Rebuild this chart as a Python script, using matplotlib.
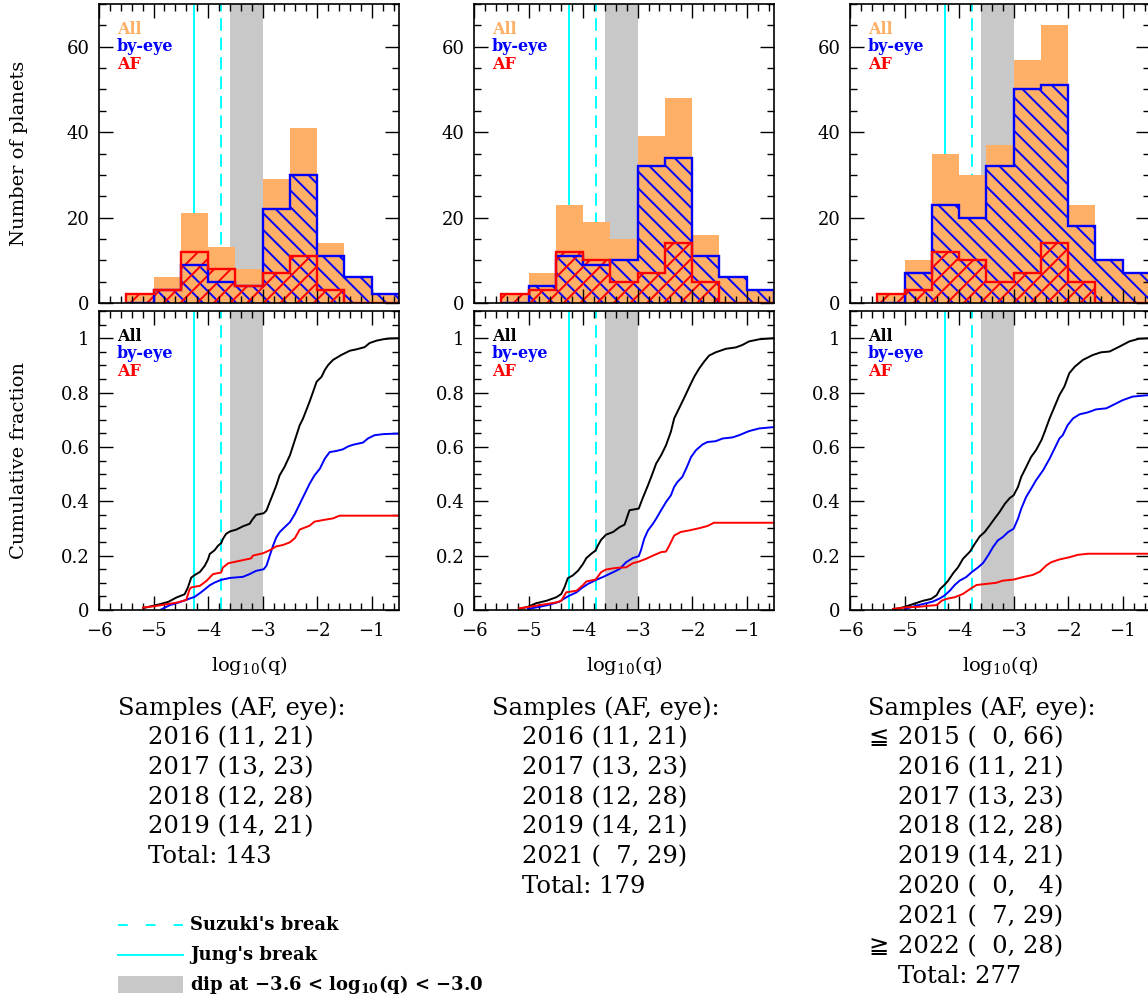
import matplotlib.pyplot as plt
from matplotlib.lines import Line2D
from matplotlib.patches import Rectangle
from matplotlib.ticker import MultipleLocator, FuncFormatter, NullFormatter

plt.rcParams['font.family'] = ['DejaVu Serif', 'DejaVu Sans']
plt.rcParams['mathtext.fontset'] = 'dejavuserif'
plt.rcParams['hatch.linewidth'] = 1.4

# histogram bins in log10(q)
edges = [-5.5, -5.0, -4.5, -4.0, -3.5, -3.0, -2.5, -2.0, -1.5, -1.0, -0.5]

# breaks and dip
jung_break = -4.26
suzuki_break = -3.77
dip_lo, dip_hi = -3.6, -3.0

# panel A: 2016-2019
all_a = [2, 6, 21, 13, 8, 29, 41, 14, 6, 2]
eye_a = [0, 3, 9, 5, 4, 22, 30, 11, 6, 2]
af_a = [2, 3, 12, 8, 4, 7, 11, 3, 0, 0]
# panel B: 2016-2021
all_b = [2, 7, 23, 19, 15, 39, 48, 16, 6, 3]
eye_b = [0, 4, 11, 9, 10, 32, 34, 11, 6, 3]
af_b = [2, 3, 12, 10, 5, 7, 14, 5, 0, 0]
# panel C: all seasons
all_c = [2, 10, 35, 30, 37, 57, 65, 23, 10, 7]
eye_c = [0, 7, 23, 20, 32, 50, 51, 18, 10, 7]
af_c = [2, 3, 12, 10, 5, 7, 14, 5, 0, 0]

# cumulative fractions
cum_all_a_x = [-5.19, -4.89, -4.73, -4.58, -4.43, -4.37, -4.31, -4.25, -4.15, -4.06, -4.00, -3.97, -3.88,
               -3.82, -3.76, -3.73, -3.67, -3.60, -3.48, -3.36, -3.24, -3.18, -3.12, -2.98, -2.93, -2.87,
               -2.81, -2.75, -2.69, -2.60, -2.50, -2.44, -2.38, -2.32, -2.26, -2.20, -2.14, -2.08, -2.01,
               -1.92, -1.86, -1.80, -1.71, -1.56, -1.40, -1.28, -1.13, -1.04, -0.91, -0.79, -0.67, -0.50]
cum_all_a_y = [0.007, 0.021, 0.030, 0.046, 0.058, 0.083, 0.119, 0.128, 0.140, 0.163, 0.187, 0.206, 0.220,
               0.236, 0.246, 0.261, 0.280, 0.289, 0.296, 0.308, 0.317, 0.335, 0.350, 0.356, 0.366, 0.397,
               0.427, 0.458, 0.495, 0.526, 0.569, 0.606, 0.643, 0.680, 0.704, 0.735, 0.766, 0.800, 0.840,
               0.858, 0.883, 0.901, 0.920, 0.938, 0.954, 0.959, 0.967, 0.982, 0.991, 0.996, 0.999, 1.000]
cum_eye_a_x = [-4.86, -4.70, -4.55, -4.40, -4.34, -4.25, -4.15, -4.06, -3.97, -3.88, -3.76, -3.60, -3.36,
               -3.24, -3.12, -2.98, -2.93, -2.87, -2.81, -2.75, -2.69, -2.63, -2.50, -2.41, -2.32, -2.23,
               -2.14, -2.05, -1.95, -1.86, -1.77, -1.65, -1.53, -1.43, -1.34, -1.16, -1.07, -0.95, -0.79,
               -0.67, -0.50]
cum_eye_a_y = [0.002, 0.018, 0.027, 0.037, 0.042, 0.048, 0.062, 0.076, 0.091, 0.101, 0.111, 0.118, 0.122,
               0.132, 0.144, 0.150, 0.163, 0.200, 0.236, 0.267, 0.286, 0.298, 0.323, 0.353, 0.390, 0.427,
               0.464, 0.495, 0.520, 0.557, 0.581, 0.585, 0.591, 0.602, 0.608, 0.616, 0.631, 0.643, 0.647,
               0.648, 0.649]
cum_af_a_x = [-5.19, -4.95, -4.77, -4.58, -4.40, -4.34, -4.31, -4.15, -4.03, -3.91, -3.76, -3.73, -3.63,
              -3.42, -3.21, -3.18, -2.99, -2.87, -2.75, -2.63, -2.50, -2.41, -2.32, -2.14, -2.05, -1.89,
              -1.71, -1.59, -0.50]
cum_af_a_y = [0.009, 0.015, 0.021, 0.027, 0.037, 0.076, 0.083, 0.089, 0.107, 0.132, 0.138, 0.156, 0.172,
              0.181, 0.190, 0.200, 0.209, 0.220, 0.234, 0.239, 0.249, 0.264, 0.296, 0.310, 0.325, 0.331,
              0.337, 0.347, 0.347]

cum_all_b_x = [-5.17, -5.01, -4.86, -4.67, -4.49, -4.40, -4.34, -4.28, -4.19, -4.09, -4.00, -3.94, -3.85,
               -3.77, -3.73, -3.67, -3.58, -3.45, -3.33, -3.24, -3.15, -2.98, -2.91, -2.81, -2.75, -2.66,
               -2.57, -2.48, -2.39, -2.33, -2.24, -2.15, -2.05, -1.96, -1.87, -1.78, -1.69, -1.57, -1.38,
               -1.20, -1.08, -0.96, -0.77, -0.50]
cum_all_b_y = [0.004, 0.012, 0.025, 0.034, 0.047, 0.059, 0.084, 0.117, 0.127, 0.145, 0.170, 0.191, 0.207,
               0.219, 0.237, 0.258, 0.277, 0.287, 0.305, 0.314, 0.367, 0.373, 0.410, 0.459, 0.490, 0.539,
               0.569, 0.606, 0.656, 0.705, 0.742, 0.779, 0.822, 0.859, 0.889, 0.914, 0.936, 0.948, 0.961,
               0.966, 0.975, 0.988, 0.996, 1.000]
cum_eye_b_x = [-5.01, -4.79, -4.61, -4.43, -4.34, -4.25, -4.12, -4.03, -3.91, -3.76, -3.64, -3.45, -3.33,
               -3.21, -3.09, -2.98, -2.94, -2.88, -2.81, -2.72, -2.66, -2.57, -2.48, -2.39, -2.33, -2.27,
               -2.18, -2.11, -2.02, -1.93, -1.81, -1.72, -1.57, -1.44, -1.26, -1.14, -0.96, -0.77, -0.50]
cum_eye_b_y = [0.004, 0.012, 0.020, 0.031, 0.043, 0.053, 0.065, 0.080, 0.096, 0.111, 0.121, 0.139, 0.151,
               0.176, 0.191, 0.198, 0.219, 0.262, 0.293, 0.317, 0.336, 0.367, 0.397, 0.422, 0.453, 0.471,
               0.490, 0.520, 0.563, 0.588, 0.609, 0.618, 0.621, 0.631, 0.635, 0.643, 0.658, 0.668, 0.673]
cum_af_b_x = [-5.17, -4.98, -4.73, -4.49, -4.40, -4.31, -4.12, -4.01, -3.94, -3.77, -3.67, -3.58, -3.39,
              -3.21, -3.09, -2.98, -2.85, -2.72, -2.57, -2.48, -2.42, -2.33, -2.21, -2.05, -1.87, -1.72,
              -1.60, -0.50]
cum_af_b_y = [0.006, 0.012, 0.020, 0.028, 0.034, 0.065, 0.071, 0.090, 0.105, 0.112, 0.139, 0.149, 0.155,
              0.157, 0.172, 0.178, 0.188, 0.200, 0.213, 0.215, 0.237, 0.274, 0.287, 0.293, 0.301, 0.309,
              0.321, 0.321]

cum_all_c_x = [-5.21, -5.02, -4.84, -4.66, -4.51, -4.41, -4.35, -4.27, -4.20, -4.11, -4.02, -3.93, -3.80,
               -3.71, -3.62, -3.53, -3.44, -3.35, -3.26, -3.16, -3.07, -3.00, -2.92, -2.86, -2.77, -2.68,
               -2.59, -2.49, -2.43, -2.34, -2.25, -2.16, -2.07, -1.98, -1.88, -1.73, -1.55, -1.40, -1.24,
               -1.06, -0.88, -0.70, -0.50]
cum_all_c_y = [0.002, 0.010, 0.022, 0.034, 0.041, 0.055, 0.077, 0.092, 0.108, 0.135, 0.157, 0.188, 0.215,
               0.244, 0.271, 0.287, 0.311, 0.336, 0.360, 0.391, 0.412, 0.422, 0.453, 0.490, 0.526, 0.563,
               0.588, 0.625, 0.656, 0.705, 0.748, 0.791, 0.822, 0.871, 0.895, 0.920, 0.938, 0.948, 0.951,
               0.969, 0.988, 0.998, 1.000]
cum_eye_c_x = [-4.99, -4.78, -4.60, -4.48, -4.35, -4.27, -4.17, -4.08, -3.99, -3.87, -3.77, -3.65, -3.56,
               -3.47, -3.38, -3.29, -3.20, -3.10, -3.00, -2.92, -2.86, -2.77, -2.68, -2.59, -2.46, -2.34,
               -2.25, -2.16, -2.10, -2.01, -1.91, -1.79, -1.64, -1.49, -1.30, -1.18, -1.00, -0.82, -0.50]
cum_eye_c_y = [0.004, 0.016, 0.025, 0.031, 0.043, 0.053, 0.071, 0.092, 0.108, 0.121, 0.139, 0.157, 0.173,
               0.200, 0.231, 0.256, 0.268, 0.287, 0.299, 0.336, 0.373, 0.416, 0.446, 0.477, 0.514, 0.557,
               0.594, 0.631, 0.643, 0.680, 0.705, 0.720, 0.727, 0.738, 0.742, 0.754, 0.772, 0.785, 0.791]
cum_af_c_x = [-5.21, -4.96, -4.72, -4.54, -4.41, -4.32, -4.23, -4.08, -3.93, -3.80, -3.68, -3.50, -3.32,
              -3.20, -3.00, -2.83, -2.65, -2.52, -2.40, -2.31, -2.16, -1.98, -1.82, -1.64, -0.50]
cum_af_c_y = [0.004, 0.010, 0.012, 0.016, 0.018, 0.034, 0.041, 0.047, 0.059, 0.077, 0.092, 0.096, 0.100,
              0.108, 0.112, 0.121, 0.129, 0.141, 0.164, 0.176, 0.186, 0.194, 0.203, 0.207, 0.207]

# sample tables: (prefix, season, n_AF, n_eye)
samples_a = [('', '2016', 11, 21), ('', '2017', 13, 23), ('', '2018', 12, 28), ('', '2019', 14, 21)]
samples_b = samples_a + [('', '2021', 7, 29)]
samples_c = [('\u2266', '2015', 0, 66)] + samples_a + [('', '2020', 0, 4), ('', '2021', 7, 29),
                                                      ('\u2267', '2022', 0, 28)]
totals = [143, 179, 277]

orange = '#FFB066'
grey = '#C8C8C8'
cyan = '#00FFFF'

W, H = 1148, 998
fig = plt.figure(figsize=(W / 100, H / 100), dpi=100)


def px(x, y):
    return x / W, 1 - y / H


def style_axes(ax, ymaj, ymin):
    ax.set_xlim(-6, -0.5)
    ax.xaxis.set_major_locator(MultipleLocator(1))
    ax.xaxis.set_minor_locator(MultipleLocator(0.2))
    ax.yaxis.set_major_locator(MultipleLocator(ymaj))
    ax.yaxis.set_minor_locator(MultipleLocator(ymin))
    ax.yaxis.set_major_formatter(FuncFormatter(lambda v, p: f'{v:g}'))
    ax.tick_params(which='both', direction='in', top=True, right=True, width=1.0, labelsize=13)
    ax.tick_params(which='major', length=10)
    ax.tick_params(which='minor', length=5)
    ax.tick_params(axis='y', which='major', pad=7)
    ax.tick_params(axis='x', which='major', pad=9)
    for s in ax.spines.values():
        s.set_linewidth(1.2)


def marks(ax):
    ax.axvspan(dip_lo, dip_hi, color=grey, lw=0, zorder=0.5)
    ax.axvline(jung_break, color=cyan, lw=1.4, zorder=0.6)
    ax.axvline(suzuki_break, color=cyan, lw=1.4, dashes=(6.5, 3.5), zorder=0.6)


def labels(ax, first_color):
    for txt, col, yy in [('All', first_color, 0.916), ('by-eye', 'blue', 0.857), ('AF', 'red', 0.799)]:
        ax.text(0.06, yy, txt, transform=ax.transAxes, color=col, fontsize=11.5,
                fontweight='bold', va='center')


panels = [
    (all_a, eye_a, af_a, cum_all_a_x, cum_all_a_y, cum_eye_a_x, cum_eye_a_y, cum_af_a_x, cum_af_a_y),
    (all_b, eye_b, af_b, cum_all_b_x, cum_all_b_y, cum_eye_b_x, cum_eye_b_y, cum_af_b_x, cum_af_b_y),
    (all_c, eye_c, af_c, cum_all_c_x, cum_all_c_y, cum_eye_c_x, cum_eye_c_y, cum_af_c_x, cum_af_c_y),
]
left_px = [99, 474, 850]

for i, (h_all, h_eye, h_af, ax_, ay_, ex_, ey_, fx_, fy_) in enumerate(panels):
    x0 = left_px[i] / W
    ax1 = fig.add_axes([x0, 1 - 303 / H, 300 / W, 299 / H])
    ax2 = fig.add_axes([x0, 1 - 610 / H, 300 / W, 299 / H])

    # histogram panel
    marks(ax1)
    ax1.stairs(h_all, edges, fill=True, color=orange, lw=0, zorder=1)
    ax1.stairs(h_eye, edges, fill=True, facecolor='none', edgecolor='blue', hatch='\\\\', lw=0, zorder=1.1)
    ax1.stairs(h_af, edges, fill=True, facecolor='none', edgecolor='red', hatch='//', lw=0, zorder=1.2)
    ax1.stairs(h_eye, edges, color='blue', lw=1.7, zorder=2)
    ax1.stairs(h_af, edges, color='red', lw=1.7, zorder=2.1)
    ax1.set_ylim(0, 70)
    style_axes(ax1, 20, 5)
    ax1.xaxis.set_major_formatter(NullFormatter())
    labels(ax1, orange)

    # cumulative panel
    marks(ax2)
    ax2.plot(ax_, ay_, color='black', lw=1.4, zorder=2)
    ax2.plot(ex_, ey_, color='blue', lw=1.4, zorder=2)
    ax2.plot(fx_, fy_, color='red', lw=1.4, zorder=2)
    ax2.set_ylim(0, 1.1)
    style_axes(ax2, 0.2, 0.05)
    ax2.xaxis.set_major_formatter(FuncFormatter(lambda v, p: f'{v:g}'.replace('-', '\u2212')))
    ax2.set_xlabel('log$_{10}$(q)', fontsize=14, labelpad=10)
    labels(ax2, 'black')

    if i == 0:
        ax1.set_ylabel('Number of planets', fontsize=14)
        ax1.yaxis.set_label_coords(-0.235, 0.5)
        ax2.set_ylabel('Cumulative fraction', fontsize=14)
        ax2.yaxis.set_label_coords(-0.235, 0.5)


# sample tables under the panels
def pad2(n):
    return f'{n:>2}'.replace(' ', '\u2007')


block_x = [118, 492, 868]
for bx, rows, tot in zip(block_x, [samples_a, samples_b, samples_c], totals):
    y = 708
    fig.text(*px(bx, y), 'Samples (AF, eye):', fontsize=17.5, va='center')
    for pre, season, n_af, n_eye in rows:
        y += 29.8
        if pre:
            fig.text(*px(bx, y), pre, fontsize=17.5, va='center')
        fig.text(*px(bx + 30, y), f'{season} ({pad2(n_af)}, {pad2(n_eye)})', fontsize=17.5, va='center')
    y += 29.8
    fig.text(*px(bx + 30, y), f'Total: {tot}', fontsize=17.5, va='center')

# key for the break lines and the dip
fig.add_artist(Line2D([118 / W, 183 / W], [1 - 925 / H] * 2, color=cyan, lw=1.4, dashes=(5, 9.3)))
fig.add_artist(Line2D([118 / W, 183 / W], [1 - 955 / H] * 2, color=cyan, lw=1.4))
fig.add_artist(Rectangle(px(118, 993), 65 / W, 17 / H, color=grey, lw=0))
fig.text(*px(190, 925), "Suzuki's break", fontsize=13, fontweight='bold', va='center')
fig.text(*px(190, 955), "Jung's break", fontsize=13, fontweight='bold', va='center')
fig.text(*px(190, 984), 'dip at \u22123.6 < log$_{\\mathbf{10}}$(q) < \u22123.0', fontsize=13,
         fontweight='bold', va='center')

fig.savefig('out.png', dpi=100)
